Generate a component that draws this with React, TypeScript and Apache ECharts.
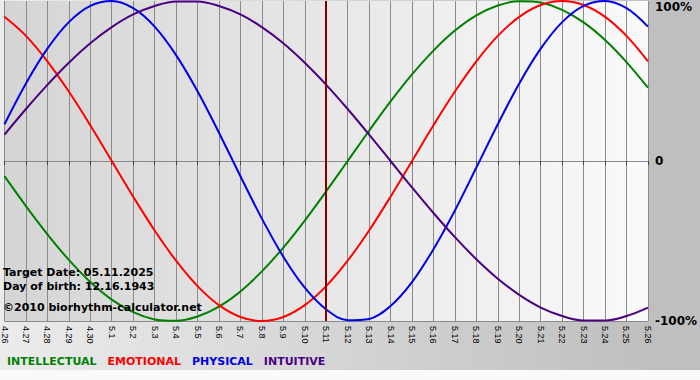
import React, { useEffect, useRef } from "react";
import * as echarts from "echarts";

const categories = [
  "4.26", "4.27", "4.28", "4.29", "4.30", "5.1", "5.2", "5.3", "5.4", "5.5", "5.6",
  "5.7", "5.8", "5.9", "5.10", "5.11", "5.12", "5.13", "5.14", "5.15", "5.16",
  "5.17", "5.18", "5.19", "5.20", "5.21", "5.22", "5.23", "5.24", "5.25", "5.26",
];

const intellectual = [
  -0.095, -0.282, -0.458, -0.618, -0.756, -0.866, -0.945, -0.99, -0.999, -0.972, -0.91,
  -0.815, -0.69, -0.541, -0.372, -0.189, 0, 0.189, 0.372, 0.541, 0.69,
  0.815, 0.91, 0.972, 0.999, 0.99, 0.945, 0.866, 0.756, 0.618, 0.458,
];
const emotional = [
  0.901, 0.782, 0.623, 0.434, 0.223, 0, -0.223, -0.434, -0.623, -0.782, -0.901,
  -0.975, -1, -0.975, -0.901, -0.782, -0.623, -0.434, -0.223, 0, 0.223,
  0.434, 0.623, 0.782, 0.901, 0.975, 1, 0.975, 0.901, 0.782, 0.623,
];
const physical = [
  0.23, 0.485, 0.702, 0.868, 0.97, 1, 0.955, 0.84, 0.662, 0.436, 0.177,
  -0.095, -0.36, -0.598, -0.792, -0.928, -0.995, -0.987, -0.906, -0.757, -0.551,
  -0.309, -0.041, 0.23, 0.485, 0.702, 0.868, 0.97, 1, 0.955, 0.84,
];
const intuitive = [
  0.165, 0.325, 0.476, 0.614, 0.736, 0.837, 0.916, 0.969, 0.997, 0.997, 0.969,
  0.916, 0.837, 0.736, 0.614, 0.476, 0.325, 0.165, 0, -0.165, -0.325,
  -0.476, -0.614, -0.736, -0.837, -0.916, -0.969, -0.997, -0.997, -0.969, -0.916,
];

const targetDay = "5.11";
const infoLines = [
  "Target Date: 05.11.2025",
  "Day of birth: 12.16.1943",
  "©2010 biorhythm-calculator.net",
];

const seriesDefs = [
  { name: "INTELLECTUAL", color: "#008000", data: intellectual },
  { name: "EMOTIONAL", color: "#ff0000", data: emotional },
  { name: "PHYSICAL", color: "#0000e6", data: physical },
  { name: "INTUITIVE", color: "#4b0082", data: intuitive },
];

const FONT = "'DejaVu Sans', Verdana, sans-serif";

export default function App() {
  const ref = useRef<HTMLDivElement>(null);

  useEffect(() => {
    document.body.style.margin = "0";
    if (!ref.current) return;
    const chart = echarts.init(ref.current, undefined, { renderer: "svg" });

    const series: any[] = seriesDefs.map((s, idx) => ({
      name: s.name,
      type: "line",
      data: s.data,
      smooth: 0.35,
      symbol: "none",
      lineStyle: { color: s.color, width: 2 },
      itemStyle: { color: s.color },
      z: 3,
      ...(idx === 0
        ? {
            markLine: {
              silent: true,
              symbol: "none",
              label: { show: false },
              lineStyle: { color: "#800000", width: 2, type: "solid" },
              data: [{ xAxis: targetDay }],
            },
          }
        : {}),
    }));

    chart.setOption({
      animation: false,
      backgroundColor: "transparent",
      grid: {
        left: 0,
        top: 1,
        width: 652,
        height: 320,
        show: true,
        borderWidth: 0,
        backgroundColor: {
          type: "linear",
          x: 0,
          y: 0,
          x2: 1,
          y2: 0,
          colorStops: [
            { offset: 0, color: "#d5d5d5" },
            { offset: 1, color: "#fafafa" },
          ],
        },
      },
      legend: {
        left: -3,
        top: 350,
        icon: "none",
        itemWidth: 0,
        itemHeight: 12,
        itemGap: 6,
        selectedMode: false,
        textStyle: { fontFamily: FONT, fontSize: 11, fontWeight: "bold" },
        data: seriesDefs.map((s) => ({ name: s.name, textStyle: { color: s.color } })),
      },
      xAxis: {
        type: "category",
        data: categories,
        boundaryGap: false,
        axisLine: { show: true, lineStyle: { color: "#8a8a8a", width: 1 } },
        axisTick: { show: true, interval: 0, length: 4, lineStyle: { color: "#444" } },
        splitLine: { show: true, interval: 0, lineStyle: { color: "#8a8a8a", width: 1 } },
        axisLabel: {
          interval: 0,
          rotate: -90,
          fontSize: 9,
          fontFamily: "'Liberation Sans', Arial, sans-serif",
          color: "#000",
          margin: 5,
        },
      },
      yAxis: {
        type: "value",
        position: "right",
        min: -1,
        max: 1,
        interval: 1,
        axisLine: { show: false },
        axisTick: { show: false },
        splitLine: {
          show: true,
          lineStyle: { color: ["#8a8a8a", "#8a8a8a", "rgba(0,0,0,0)"], width: 1 },
        },
        axisLabel: {
          margin: 7,
          color: "#000",
          fontFamily: FONT,
          fontSize: 12,
          fontWeight: "bold",
          verticalAlignMaxLabel: "top",
          formatter: (v: number) => (v === 1 ? "100%" : v === 0 ? "0" : v === -1 ? "-100%" : ""),
        },
      },
      graphic: infoLines.map((t, i) => ({
        type: "text",
        left: 3,
        top: [267, 281, 302][i],
        z: 10,
        style: {
          text: t,
          fill: "#000",
          fontFamily: FONT,
          fontSize: 11,
          fontWeight: "bold",
        },
      })),
      series,
    });

    return () => chart.dispose();
  }, []);

  return (
    <div
      style={{
        width: 700,
        height: 380,
        backgroundColor: "#fafafa",
        backgroundImage: "linear-gradient(to right, #ececec, #bfbfbf 93%)",
        backgroundSize: "100% 370px",
        backgroundRepeat: "no-repeat",
      }}
    >
      <div ref={ref} style={{ width: 700, height: 380 }} />
    </div>
  );
}
